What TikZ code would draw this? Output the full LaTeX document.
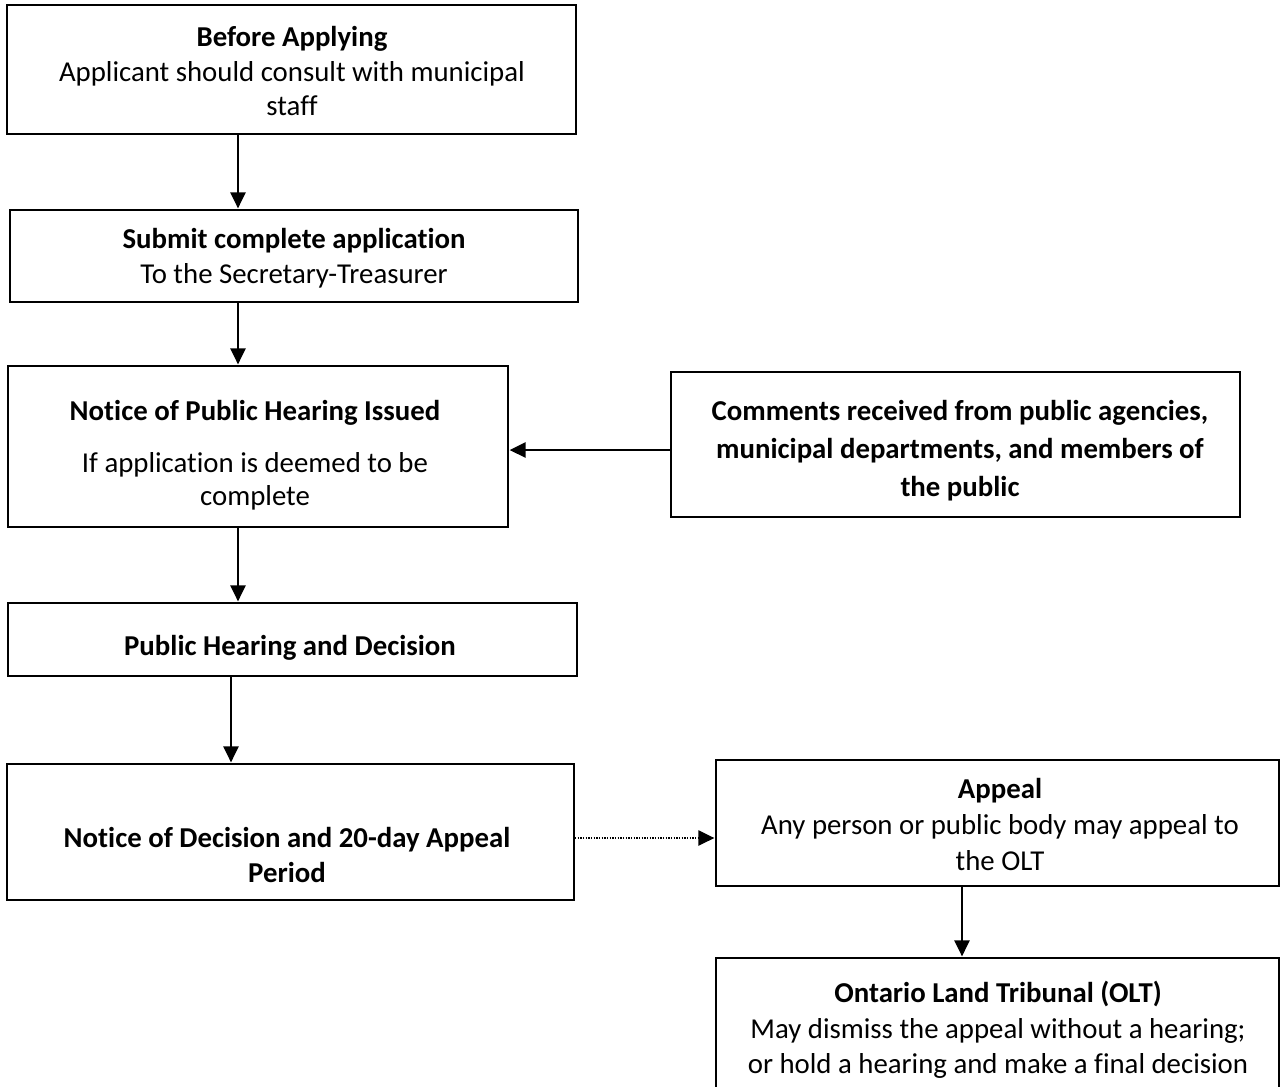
\documentclass[tikz,border=0pt]{standalone}
\usepackage{fontspec}
\setmainfont{Carlito}[Ligatures={NoCommon}]
\usetikzlibrary{arrows.meta}
\tikzset{
  stepbox/.style={draw=black,line width=1.5pt,inner sep=0pt},
  boxsize/.style 2 args={minimum width=#1*0.75pt,minimum height=#2*0.75pt},
  steptext/.style={align=center,inner sep=0pt,font=\fontsize{21.6}{26}\selectfont},
  flow/.style={line width=1pt,-{Triangle[length=12pt,width=11.5pt]},shorten >=0.5pt},
}

\begin{document}
\begin{tikzpicture}[x=0.75pt,y=-0.75pt]
\useasboundingbox (0,0) rectangle (1280,1086);
% boxes of the main column
\node[stepbox,boxsize={569}{129}] (before) at (291.5,69.5) {};
\node[steptext] (before-txt) at (292,71) {\textbf{Before Applying}\\Applicant should consult with municipal\\staff};
\node[stepbox,boxsize={568}{92}] (submit) at (294,256) {};
\node[steptext] (submit-txt) at (294,258) {\textbf{Submit complete application}\\To the Secretary-Treasurer};
\node[stepbox,boxsize={500}{161}] (notice) at (258,446.5) {};
\node[steptext,font=\fontsize{21.6}{25}\selectfont] (notice-txt) at (255,455) {\textbf{Notice of Public Hearing Issued}\\[14pt]If application is deemed to be\\complete};
\node[stepbox,boxsize={569}{73}] (hearing) at (292.5,639.5) {};
\node[steptext] (hearing-txt) at (290,648) {\textbf{Public Hearing and Decision}};
\node[stepbox,boxsize={567}{136}] (decision) at (290.5,832) {};
\node[steptext] (decision-txt) at (287,855) {\textbf{Notice of Decision and 20-day Appeal}\\\textbf{Period}};
% boxes on the right
\node[stepbox,boxsize={569}{145}] (comments) at (955.5,444.5) {};
\node[steptext,font=\fontsize{21.6}{28.5}\selectfont] (comments-txt) at (960,451) {\textbf{Comments received from public agencies,}\\\textbf{municipal departments, and members of}\\\textbf{the public}};
\node[stepbox,boxsize={563}{126}] (appeal) at (997.5,823) {};
\node[steptext,font=\fontsize{21.6}{27}\selectfont] (appeal-txt) at (1000,824) {\textbf{Appeal}\\Any person or public body may appeal to\\the OLT};
\node[stepbox,boxsize={563}{143}] (olt) at (997.5,1029.5) {};
\node[steptext,font=\fontsize{21.6}{26.6}\selectfont] (olt-txt) at (998,1030) {\textbf{Ontario Land Tribunal (OLT)}\\May dismiss the appeal without a hearing;\\or hold a hearing and make a final decision};
% where the arrows run
\coordinate (colA) at (238,0);
\coordinate (colB) at (231,0);
\coordinate (colC) at (962,0);
\coordinate (rowA) at (0,450);
\coordinate (rowB) at (0,838);
\draw[flow] (before.south -| colA) -- (submit.north -| colA);
\draw[flow] (submit.south -| colA) -- (notice.north -| colA);
\draw[flow] (notice.south -| colA) -- (hearing.north -| colA);
\draw[flow] (hearing.south -| colB) -- (decision.north -| colB);
\draw[flow,line width=1.5pt] (comments.west |- rowA) -- (notice.east |- rowA);
\draw[flow,dash pattern=on 1pt off 1pt] (decision.east |- rowB) -- (appeal.west |- rowB);
\draw[flow] (appeal.south -| colC) -- (olt.north -| colC);
\end{tikzpicture}
\end{document}
